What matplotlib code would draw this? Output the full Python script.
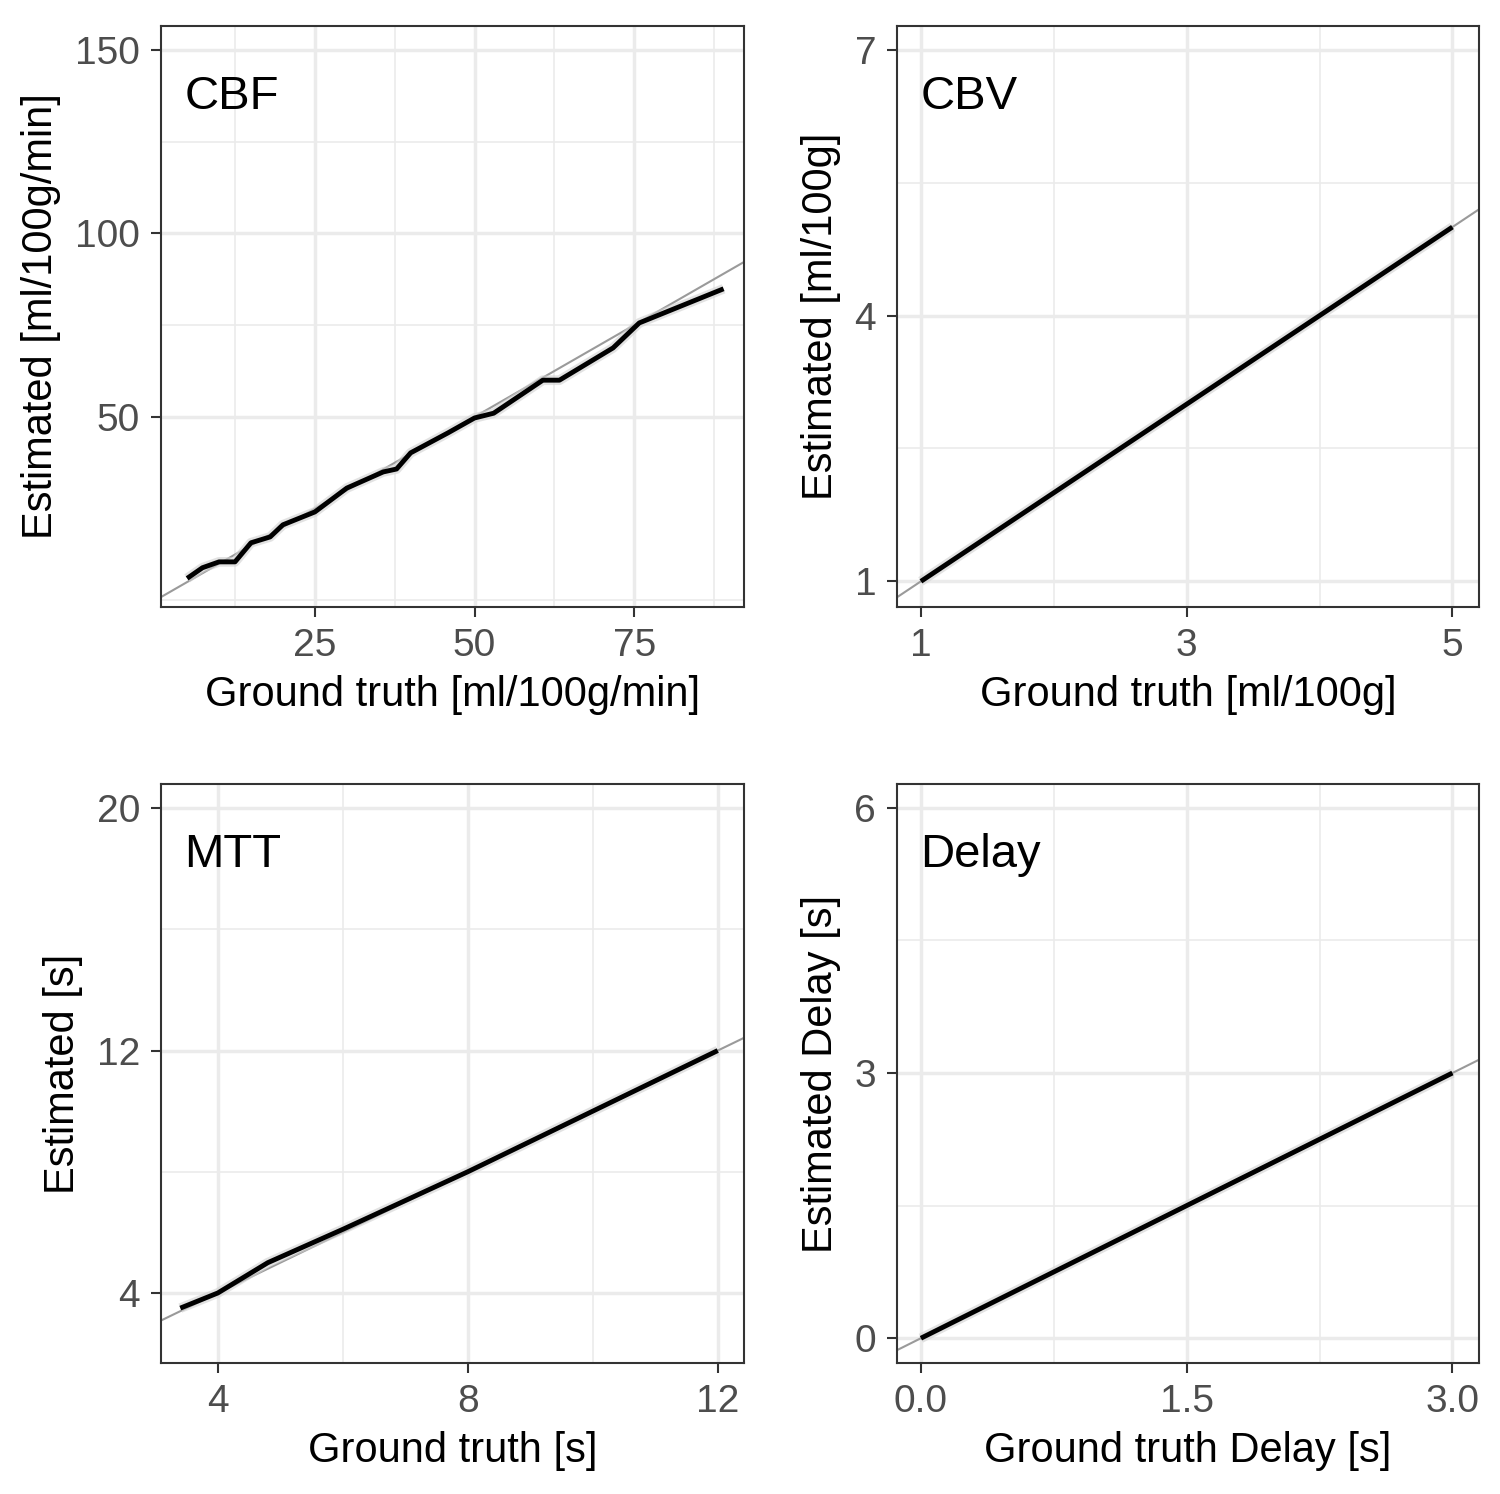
import matplotlib
matplotlib.use("Agg")
import matplotlib.pyplot as plt
import numpy as np

plt.rcParams['font.family'] = ['Liberation Sans', 'DejaVu Sans']

cbf_x = [5, 7.4, 10, 12.5, 15, 18, 20, 25, 30, 35.7, 37.8, 40, 45.8, 50, 53, 60.7, 63.3, 71.7, 75.8, 89]
cbf_y = [6, 8.9, 10.5, 10.5, 15.7, 17.3, 20.6, 24.1, 30.6, 35, 35.8, 40.2, 45.6, 49.7, 51, 60, 60, 68.8, 75.6, 84.9]
cbv_x = [1, 2, 3, 4, 5]
cbv_y = [1, 2, 3, 4, 5]
mtt_x = [3.4, 4, 4.8, 6.0, 8, 10, 12]
mtt_y = [3.5, 4, 5, 6.1, 8, 10, 12]
del_x = [0, 1, 2, 3]
del_y = [0, 1, 2, 3]

panels = [
    dict(name="CBF", x=cbf_x, y=cbf_y, xlim=(0.9, 92.2), ylim=(-1.8, 156.5),
         xt=[25, 50, 75], xm=[12.5, 37.5, 62.5, 87.5], yt=[50, 100, 150], ym=[0, 75, 125],
         xl="Ground truth [ml/100g/min]", yl="Estimated [ml/100g/min]", xfmt="{:g}",
         pos=[0.1073, 0.5937, 0.3887, 0.3889]),
    dict(name="CBV", x=cbv_x, y=cbv_y, xlim=(0.82, 5.2), ylim=(0.71, 7.27),
         xt=[1, 3, 5], xm=[2, 4], yt=[1, 4, 7], ym=[2.5, 5.5],
         xl="Ground truth [ml/100g]", yl="Estimated [ml/100g]", xfmt="{:g}",
         pos=[0.598, 0.5937, 0.388, 0.3889]),
    dict(name="MTT", x=mtt_x, y=mtt_y, xlim=(3.09, 12.42), ylim=(1.69, 20.8),
         xt=[4, 8, 12], xm=[6, 10], yt=[4, 12, 20], ym=[8, 16],
         xl="Ground truth [s]", yl="Estimated [s]", xfmt="{:g}",
         pos=[0.1073, 0.0877, 0.3887, 0.3876]),
    dict(name="Delay", x=del_x, y=del_y, xlim=(-0.135, 3.15), ylim=(-0.28, 6.27),
         xt=[0, 1.5, 3], xm=[0.75, 2.25], yt=[0, 3, 6], ym=[1.5, 4.5],
         xl="Ground truth Delay [s]", yl="Estimated Delay [s]", xfmt="{:.1f}",
         pos=[0.598, 0.0877, 0.388, 0.3876]),
]

fig = plt.figure(figsize=(15, 14.94), dpi=100)
for p in panels:
    ax = fig.add_axes(p["pos"])
    ax.set_xlim(p["xlim"]); ax.set_ylim(p["ylim"])
    for v in p["xm"]:
        ax.axvline(v, color="#EBEBEB", lw=1.2, zorder=0)
    for v in p["ym"]:
        ax.axhline(v, color="#EBEBEB", lw=1.2, zorder=0)
    for v in p["xt"]:
        ax.axvline(v, color="#EBEBEB", lw=2.5, zorder=0)
    for v in p["yt"]:
        ax.axhline(v, color="#EBEBEB", lw=2.5, zorder=0)
    ax.axline((0, 0), slope=1, color="#9A9A9A", lw=1.5, zorder=1)
    ax.plot(p["x"], p["y"], color="#D0D0D0", lw=7, alpha=0.6, zorder=2, solid_capstyle="butt")
    ax.plot(p["x"], p["y"], color="black", lw=3.5, zorder=3, solid_capstyle="butt")
    ax.set_xticks(p["xt"]); ax.set_yticks(p["yt"])
    ax.set_xticklabels([p["xfmt"].format(v) for v in p["xt"]])
    ax.set_yticklabels(["{:g}".format(v) for v in p["yt"]])
    ax.tick_params(labelsize=28, colors="#333333", labelcolor="#4D4D4D", length=7, width=1.5, pad=8)
    for s in ax.spines.values():
        s.set_color("#333333"); s.set_linewidth(1.5)
    ax.set_xlabel(p["xl"], fontsize=30, labelpad=8)
    ax.set_ylabel(p["yl"], fontsize=30, labelpad=10)
    ax.text(0.04, 0.878, p["name"], transform=ax.transAxes, fontsize=34, va="center", ha="left")

fig.savefig("out.png", dpi=100)
